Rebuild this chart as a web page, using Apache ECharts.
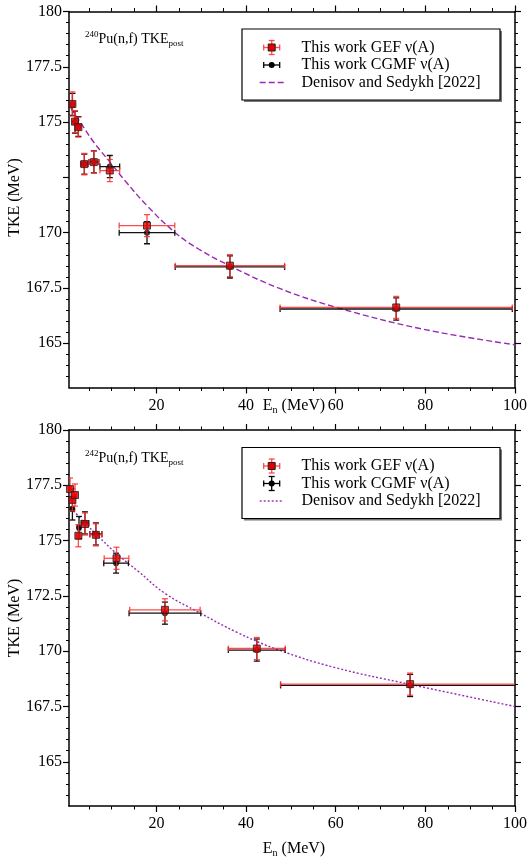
<!DOCTYPE html>
<html><head><meta charset="utf-8">
<script src="https://cdn.jsdelivr.net/npm/echarts@6/dist/echarts.min.js"></script>
<style>html,body{margin:0;padding:0;background:#fff}#c{width:530px;height:859px}</style>
</head><body><div id="c"></div>
<script>
// ---------- DATA ----------
// 240Pu(n,f)
const pu240_E        = [1.26, 1.84, 2.59, 3.92, 6.05, 9.6, 17.9, 36.4, 73.5];
const pu240_dE       = [0.3, 0.3, 0.35, 0.8, 1.1, 2.2, 6.2, 12.2, 25.9];
const pu240_gef_TKE  = [175.82, 175.02, 174.77, 173.10, 173.19, 172.81, 170.32, 168.51, 166.62];
const pu240_gef_dTKE = [0.55, 0.5, 0.45, 0.48, 0.5, 0.5, 0.5, 0.5, 0.5];
const pu240_cgmf_TKE = [175.80, 175.00, 174.80, 173.10, 173.20, 172.99, 170.00, 168.45, 166.55];
const pu240_cgmf_dTKE= [0.5, 0.5, 0.45, 0.45, 0.5, 0.5, 0.5, 0.5, 0.5];
const pu240_curve_E  = [0.9, 3.0, 6.0, 10.0, 13.0, 18.0, 24.2, 29.5, 36.4, 47.2, 60.2, 79.4, 100];
const pu240_curve_TKE= [175.63, 175.0, 174.1, 173.1, 172.35, 171.2, 170.0, 169.25, 168.5, 167.5, 166.62, 165.64, 164.93];

// 242Pu(n,f)
const pu242_gef_E    = [0.73, 1.26, 1.84, 2.59, 4.06, 6.5, 11.1, 21.9, 42.4, 76.6];
const pu242_gef_dE   = [0.25, 0.3, 0.3, 0.35, 0.85, 1.35, 2.75, 7.85, 6.35, 28.9];
const pu242_gef_TKE  = [177.33, 176.84, 177.06, 175.22, 175.75, 175.26, 174.20, 171.87, 170.12, 168.51];
const pu242_gef_dTKE = [0.5, 0.5, 0.5, 0.5, 0.5, 0.5, 0.5, 0.5, 0.5, 0.5];
const pu242_cgmf_E   = [1.26, 2.73, 4.06, 6.5, 11.0, 21.9, 42.4, 76.6];
const pu242_cgmf_dE  = [0.3, 0.35, 0.85, 1.35, 2.75, 8.0, 6.35, 28.9];
const pu242_cgmf_TKE = [176.43, 175.59, 175.80, 175.30, 173.98, 171.72, 170.05, 168.45];
const pu242_cgmf_dTKE= [0.5, 0.5, 0.5, 0.5, 0.45, 0.5, 0.5, 0.5];
const pu242_curve_E  = [1.5, 4.0, 7.0, 11.0, 16.0, 22.0, 29.5, 38.0, 47.2, 60.0, 76.6, 100];
const pu242_curve_TKE= [176.35, 175.8, 175.2, 174.43, 173.6, 172.6, 171.75, 170.85, 170.06, 169.25, 168.5, 167.5];

// Ticks / labels
const xLabelVals = [20, 40, 60, 80, 100];
const yLabelsTop = [165, 167.5, 170, 175, 177.5, 180];
const yLabelsBot = [165, 167.5, 170, 172.5, 175, 177.5, 180];
const yMajor = [165, 167.5, 170, 172.5, 175, 177.5, 180];
const X_MIN = 0.5, X_MAX = 100, Y_MIN = 163, Y_MAX = 180;

const legendTexts = ['This work GEF \u03bd(A)', 'This work CGMF \u03bd(A)', 'Denisov and Sedykh [2022]'];

// ---------- helpers ----------
const xMinor = []; for (let v = 5; v <= 100; v += 5) xMinor.push(v);
const yMinor = []; for (let v = 163.5; v <= 180.001; v += 0.5) yMinor.push(+v.toFixed(1));

const FONT = 'Liberation Serif';
const PURPLE = '#9a2ab4';
const RED_BAR = 'rgba(255,45,45,0.85)';
const GRID_TOPS = [11.5, 430];
const GRID_H = 376, GRID_L = 69, GRID_W = 449;

function zipErr(E, dE, T, dT) { return E.map((e, i) => [e, T[i], dE[i], dT[i]]); }
function zip(E, T) { return E.map((e, i) => [e, T[i]]); }

function errRender(color) {
  return function (params, api) {
    const x = api.value(0), y = api.value(1), dx = api.value(2), dy = api.value(3);
    const xl = Math.max(x - dx, X_MIN), xr = Math.min(x + dx, X_MAX);
    const pl = api.coord([xl, y]), pr = api.coord([xr, y]);
    const pt = api.coord([x, y + dy]), pb = api.coord([x, y - dy]);
    const c = 3;
    const st = { stroke: color, lineWidth: 1.3 };
    const ch = [
      { type: 'line', shape: { x1: pl[0], y1: pl[1], x2: pr[0], y2: pr[1] }, style: st },
      { type: 'line', shape: { x1: pt[0], y1: pt[1], x2: pb[0], y2: pb[1] }, style: st },
      { type: 'line', shape: { x1: pt[0] - c, y1: pt[1], x2: pt[0] + c, y2: pt[1] }, style: st },
      { type: 'line', shape: { x1: pb[0] - c, y1: pb[1], x2: pb[0] + c, y2: pb[1] }, style: st }
    ];
    if (x - dx >= X_MIN) ch.push({ type: 'line', shape: { x1: pl[0], y1: pl[1] - c, x2: pl[0], y2: pl[1] + c }, style: st });
    if (x + dx <= X_MAX) ch.push({ type: 'line', shape: { x1: pr[0], y1: pr[1] - c, x2: pr[0], y2: pr[1] + c }, style: st });
    return { type: 'group', children: ch };
  };
}

const grids = [], xAxes = [], yAxes = [];
function addAxes(gi, yLabels) {
  grids.push({ left: GRID_L, top: GRID_TOPS[gi], width: GRID_W, height: GRID_H });
  const base = { gridIndex: gi, type: 'value', min: X_MIN, max: X_MAX, splitLine: { show: false } };
  const line = { show: true, onZero: false, lineStyle: { color: '#000', width: 1.5 } };
  xAxes.push(Object.assign({}, base, { position: 'bottom', axisLine: line,
    axisTick: { show: true, customValues: xMinor, length: 3.5, lineStyle: { color: '#000', width: 1 } }, axisLabel: { show: false } }));
  xAxes.push(Object.assign({}, base, { position: 'bottom', axisLine: { show: false },
    axisTick: { show: true, customValues: xLabelVals, length: 6, lineStyle: { color: '#000', width: 1.2 } },
    axisLabel: { show: true, customValues: xLabelVals, margin: 10, fontSize: 16, fontFamily: FONT, color: '#000' } }));
  xAxes.push(Object.assign({}, base, { position: 'top', axisLine: line,
    axisTick: { show: true, customValues: xMinor, length: 3.5, lineStyle: { color: '#000', width: 1 } }, axisLabel: { show: false } }));
  xAxes.push(Object.assign({}, base, { position: 'top', axisLine: { show: false },
    axisTick: { show: true, customValues: xLabelVals, length: 6, lineStyle: { color: '#000', width: 1.2 } }, axisLabel: { show: false } }));
  const ybase = { gridIndex: gi, type: 'value', min: Y_MIN, max: Y_MAX, splitLine: { show: false } };
  yAxes.push(Object.assign({}, ybase, { position: 'left', axisLine: line,
    axisTick: { show: true, customValues: yMinor, length: 3, lineStyle: { color: '#000', width: 1 } }, axisLabel: { show: false } }));
  yAxes.push(Object.assign({}, ybase, { position: 'left', axisLine: { show: false },
    axisTick: { show: true, customValues: yMajor, length: 6, lineStyle: { color: '#000', width: 1.2 } },
    axisLabel: { show: true, customValues: yLabels, margin: 7, fontSize: 16, fontFamily: FONT, color: '#000', formatter: v => String(v) } }));
  yAxes.push(Object.assign({}, ybase, { position: 'right', axisLine: line,
    axisTick: { show: true, customValues: yMinor, length: 3, lineStyle: { color: '#000', width: 1 } }, axisLabel: { show: false } }));
  yAxes.push(Object.assign({}, ybase, { position: 'right', axisLine: { show: false },
    axisTick: { show: true, customValues: yMajor, length: 6, lineStyle: { color: '#000', width: 1.2 } }, axisLabel: { show: false } }));
}
addAxes(0, yLabelsTop);
addAxes(1, yLabelsBot);

const series = [];
function addPanel(gi, cgmf, gef, curve, dash) {
  const xi = gi * 4 + 1, yi = gi * 4 + 1;
  series.push({ type: 'line', xAxisIndex: xi, yAxisIndex: yi, data: curve, smooth: 0.4,
    symbol: 'none', silent: true, z: 1, lineStyle: { color: PURPLE, width: 1.4, type: dash } });
  series.push({ type: 'custom', xAxisIndex: xi, yAxisIndex: yi, data: cgmf, renderItem: errRender('#111'),
    encode: { x: 0, y: 1 }, clip: true, z: 2, silent: true });
  series.push({ type: 'scatter', xAxisIndex: xi, yAxisIndex: yi, data: cgmf.map(d => [d[0], d[1]]), symbol: 'circle',
    symbolSize: 6, itemStyle: { color: '#000' }, z: 3, silent: true });
  series.push({ type: 'custom', xAxisIndex: xi, yAxisIndex: yi, data: gef, renderItem: errRender(RED_BAR),
    encode: { x: 0, y: 1 }, clip: true, z: 4, silent: true });
  series.push({ type: 'scatter', xAxisIndex: xi, yAxisIndex: yi, data: gef.map(d => [d[0], d[1]]), symbol: 'rect',
    symbolSize: 7, itemStyle: { color: '#e00000', borderColor: '#222', borderWidth: 1 }, z: 5, silent: true });
}
addPanel(0, zipErr(pu240_E, pu240_dE, pu240_cgmf_TKE, pu240_cgmf_dTKE),
  zipErr(pu240_E, pu240_dE, pu240_gef_TKE, pu240_gef_dTKE), zip(pu240_curve_E, pu240_curve_TKE), [6, 3]);
addPanel(1, zipErr(pu242_cgmf_E, pu242_cgmf_dE, pu242_cgmf_TKE, pu242_cgmf_dTKE),
  zipErr(pu242_gef_E, pu242_gef_dE, pu242_gef_TKE, pu242_gef_dTKE), zip(pu242_curve_E, pu242_curve_TKE), [2, 2]);

// ---------- graphics: legends, labels ----------
const graphics = [];
function legend(T, dash, cgmfVert) {
  const bx = 242, by = T + 17.5, bw = 258, bh = 71;
  graphics.push({ type: 'rect', shape: { x: bx + 2, y: by + 2, width: bw, height: bh }, style: { fill: '#777' }, z: 10 });
  graphics.push({ type: 'rect', shape: { x: bx, y: by, width: bw, height: bh }, style: { fill: '#fff', stroke: '#000', lineWidth: 1.2 }, z: 11 });
  const sx = 271.7, rows = [T + 36, T + 53.5, T + 71];
  const r = RED_BAR, k = '#000';
  const L = (x1, y1, x2, y2, c, w, d) => graphics.push({ type: 'line', shape: { x1, y1, x2, y2 }, style: { stroke: c, lineWidth: w || 1.3, lineDash: d }, z: 12 });
  // GEF
  let y = rows[0];
  L(sx - 8, y, sx + 8, y, r); L(sx - 8, y - 3, sx - 8, y + 3, r); L(sx + 8, y - 3, sx + 8, y + 3, r);
  L(sx, y - 7, sx, y + 7, r); L(sx - 3, y - 7, sx + 3, y - 7, r); L(sx - 3, y + 7, sx + 3, y + 7, r);
  graphics.push({ type: 'rect', shape: { x: sx - 3.5, y: y - 3.5, width: 7, height: 7 }, style: { fill: '#e00000', stroke: '#222', lineWidth: 1 }, z: 13 });
  // CGMF
  y = rows[1];
  L(sx - 8, y, sx + 8, y, k); L(sx - 8, y - 3, sx - 8, y + 3, k); L(sx + 8, y - 3, sx + 8, y + 3, k);
  if (cgmfVert) { L(sx, y - 7, sx, y + 7, k); L(sx - 3, y - 7, sx + 3, y - 7, k); L(sx - 3, y + 7, sx + 3, y + 7, k); }
  graphics.push({ type: 'circle', shape: { cx: sx, cy: y, r: 3 }, style: { fill: '#000' }, z: 13 });
  // Denisov
  y = rows[2];
  L(sx - 12, y, sx + 12, y, PURPLE, 1.4, dash);
  legendTexts.forEach((t, i) => graphics.push({ type: 'text', x: 301.5, y: rows[i], z: 13,
    style: { text: t, font: '16px "' + FONT + '"', fill: '#000', verticalAlign: 'middle', align: 'left' } }));
}
legend(GRID_TOPS[0], [6, 3], false);
legend(GRID_TOPS[1], [2, 2], true);

function panelTitle(T, iso) {
  graphics.push({ type: 'text', x: 85, y: T + 28, z: 13, style: {
    text: '{sup|' + iso + '}{m|Pu(n,f) TKE}{sub|post}', verticalAlign: 'middle',
    rich: {
      sup: { fontFamily: FONT, fontSize: 9, verticalAlign: 'top', lineHeight: 10, fill: '#000' },
      m: { fontFamily: FONT, fontSize: 14, lineHeight: 18, verticalAlign: 'middle', fill: '#000' },
      sub: { fontFamily: FONT, fontSize: 9, verticalAlign: 'bottom', lineHeight: 10, fill: '#000' }
    } } });
}
panelTitle(GRID_TOPS[0], '240');
panelTitle(GRID_TOPS[1], '242');

function xName(cx, cy) {
  graphics.push({ type: 'text', x: cx, y: cy, z: 13, style: {
    text: '{m|E}{sub|n}{m| (MeV)}', align: 'center', verticalAlign: 'middle',
    rich: {
      m: { fontFamily: FONT, fontSize: 16, lineHeight: 18, verticalAlign: 'middle', fill: '#000' },
      sub: { fontFamily: FONT, fontSize: 10, lineHeight: 10, verticalAlign: 'bottom', fill: '#000' }
    } } });
}
xName(294, 406);
xName(294, 849);

function yName(cy) {
  graphics.push({ type: 'text', x: 15, y: cy, rotation: Math.PI / 2, z: 13,
    style: { text: 'TKE (MeV)', font: '16px "' + FONT + '"', fill: '#000', align: 'center', verticalAlign: 'middle' } });
}
yName(GRID_TOPS[0] + 186);
yName(GRID_TOPS[1] + 188);

const chart = echarts.init(document.getElementById('c'), null, { renderer: 'canvas' });
chart.setOption({
  animation: false,
  backgroundColor: '#fff',
  textStyle: { fontFamily: FONT },
  grid: grids, xAxis: xAxes, yAxis: yAxes, series: series, graphic: graphics
});
</script>
</body></html>
